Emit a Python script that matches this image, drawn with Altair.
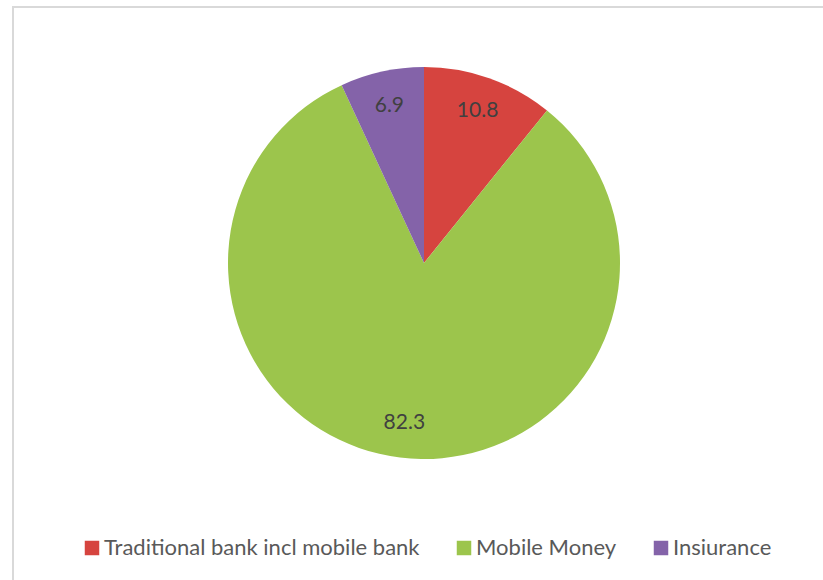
import altair as alt
import pandas as pd

categories = ["Traditional bank incl mobile bank", "Mobile Money", "Insiurance"]
values = [10.8, 82.3, 6.9]
colors = ["#D6443F", "#9CC54C", "#8463A9"]

df = pd.DataFrame({"category": categories, "value": values, "order": [0, 1, 2]})

FONT = "Lato"

base = alt.Chart(df).encode(
    theta=alt.Theta("value:Q", stack=True),
    order=alt.Order("order:Q"),
    x=alt.value(412),
    y=alt.value(257),
)

pie = base.mark_arc(outerRadius=196).encode(
    color=alt.Color(
        "category:N",
        scale=alt.Scale(domain=categories, range=colors),
        legend=alt.Legend(
            title=None,
            orient="none",
            legendX=69,
            legendY=531,
            direction="horizontal",
            symbolType="square",
            symbolSize=210,
            symbolStrokeWidth=0,
            labelFontSize=22,
            labelFont=FONT,
            labelColor="#595959",
            labelLimit=0,
            labelOffset=1,
            columnPadding=33,
        ),
    )
)

labels = base.mark_text(radius=161, fontSize=21, font=FONT, color="#404040").encode(
    text=alt.Text("value:Q", format=".1f")
)

border_df = pd.DataFrame({"k": [0]})
left_rule = alt.Chart(border_df).mark_rule(color="#d9d9d9", strokeWidth=2).encode(
    x=alt.value(1), y=alt.value(0), y2=alt.value(574)
)
top_rule = alt.Chart(border_df).mark_rule(color="#d9d9d9", strokeWidth=2).encode(
    y=alt.value(1), x=alt.value(0), x2=alt.value(811)
)

chart = alt.layer(left_rule, top_rule, pie, labels).properties(
    width=811,
    height=574,
    padding={"left": 12, "top": 6, "right": 0, "bottom": 0},
    autosize=alt.AutoSizeParams(type="none"),
    background="white",
).configure_view(stroke=None)

chart.save("out.html", embed_options={"renderer": "svg", "actions": False})
